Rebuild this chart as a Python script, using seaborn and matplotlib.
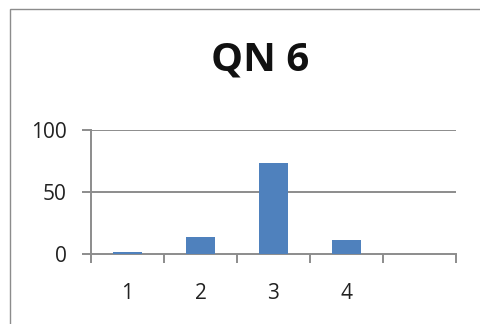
import matplotlib
matplotlib.use("Agg")
import matplotlib.pyplot as plt
from matplotlib.patches import Rectangle
import seaborn as sns
import pandas as pd

# Survey responses for question 6
categories = ["1", "2", "3", "4"]
slots = ["1", "2", "3", "4", ""]
values = [2, 14, 73, 11]
y_ticks = [0, 50, 100]

sns.set_theme(style="white")
plt.rcParams["font.family"] = ["Open Sans", "DejaVu Sans"]

df = pd.DataFrame({"option": categories, "count": values})

fig = plt.figure(figsize=(4.8, 3.24), dpi=100)
ax = fig.add_axes([91 / 480, 1 - 254 / 324, (456 - 91) / 480, (254 - 130) / 324])

sns.barplot(data=df, x="option", y="count", order=slots, color="#4F81BD",
            width=0.4, saturation=1, linewidth=0, ax=ax, zorder=3)

grid_color = "#8C8C8C"
ax.set_ylim(0, 100)
ax.set_yticks(y_ticks)
ax.set_xlim(-0.5, len(slots) - 0.5)
ax.grid(False)
for y in y_ticks[1:]:
    ax.axhline(y, color=grid_color, lw=1.4, zorder=1)

for side in ("top", "right"):
    ax.spines[side].set_visible(False)
for side in ("left", "bottom"):
    ax.spines[side].set_color(grid_color)
    ax.spines[side].set_linewidth(1.4)

# category boundaries carry the tick marks, centres carry the labels
ax.set_xticks([i - 0.5 for i in range(len(slots) + 1)], minor=True)
ax.tick_params(axis="x", which="minor", length=6.5, width=1.4, color=grid_color,
               direction="out", bottom=True)
ax.tick_params(axis="x", which="major", length=0, pad=21, labelsize=15,
               labelcolor="#222222")
ax.tick_params(axis="y", which="major", length=6.5, width=1.4, color=grid_color,
               direction="out", left=True, pad=11, labelsize=15,
               labelcolor="#222222")
ax.set_xlabel("")
ax.set_ylabel("")

fig.text(260 / 480, 1 - 60 / 324, "QN 6", ha="center", va="center",
         fontsize=29, fontweight="bold", color="#111111")

# chart area frame
fig.add_artist(Rectangle((9.5 / 480, -0.1), 1.2, 1 - 9.5 / 324 + 0.1,
                         transform=fig.transFigure, fill=False,
                         edgecolor="#8C8C8C", lw=1.0))

fig.savefig("out.png", dpi=100, facecolor="white")
